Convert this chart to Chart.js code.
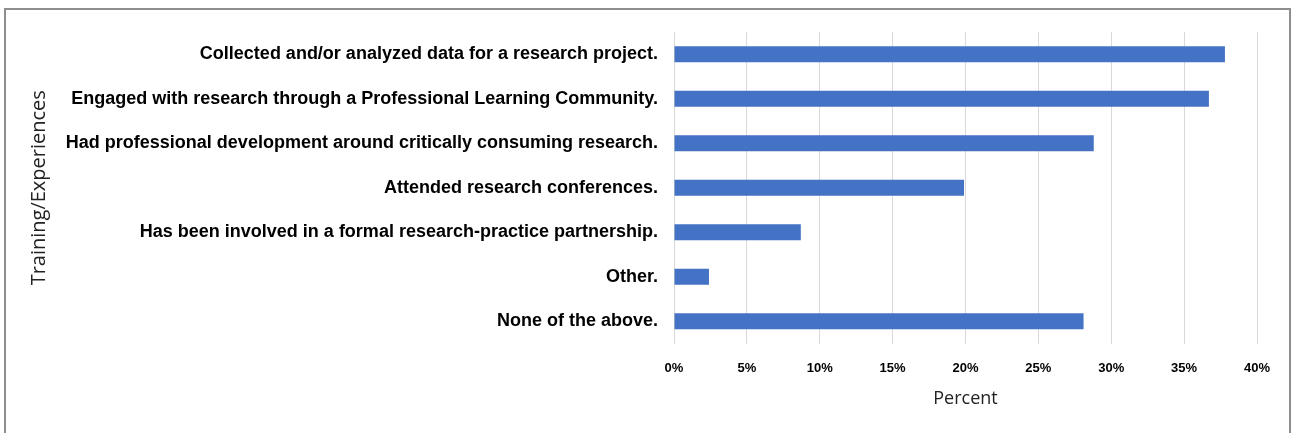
<!DOCTYPE html>
<html>
<head>
<meta charset="utf-8">
<script src="https://cdn.jsdelivr.net/npm/chart.js@4/dist/chart.umd.min.js"></script>
<style>
    html, body { margin: 0; padding: 0; background: #ffffff; overflow: hidden; }
    #wrap { position: relative; width: 1295px; height: 433px; }
    #frame { position: absolute; left: 4px; top: 8px; width: 1287px; height: 440px; border: 2px solid #8e8e8e; box-sizing: border-box; }
    #chart { position: absolute; left: 0; top: 0; }
</style>
</head>
<body>
<div id="wrap">
    <div id="frame"></div>
    <canvas id="chart" width="1295" height="433"></canvas>
</div>
<script>
// Chart data
const categories = [
    "Collected and/or analyzed data for a research project.",
    "Engaged with research through a Professional Learning Community.",
    "Had professional development around critically consuming research.",
    "Attended research conferences.",
    "Has been involved in a formal research-practice partnership.",
    "Other.",
    "None of the above."
];
const percents = [37.8, 36.7, 28.8, 19.9, 8.7, 2.4, 28.1];
const xTicks = [0, 5, 10, 15, 20, 25, 30, 35, 40];

const BAR_COLOR = '#4472c4';
const GRID_COLOR = '#d9d9d9';

const ctx = document.getElementById('chart').getContext('2d');

new Chart(ctx, {
    type: 'bar',
    data: {
        labels: categories,
        datasets: [{
            label: 'Percent',
            data: percents,
            backgroundColor: BAR_COLOR,
            borderWidth: 0,
            categoryPercentage: 1,
            barPercentage: 0.36
        }]
    },
    options: {
        indexAxis: 'y',
        responsive: false,
        animation: false,
        layout: { padding: { top: 32, right: 38, bottom: 0, left: 0 } },
        plugins: {
            legend: { display: false },
            tooltip: { enabled: false }
        },
        scales: {
            x: {
                min: 0,
                max: 40,
                afterBuildTicks: (scale) => { scale.ticks = xTicks.map(v => ({ value: v })); },
                afterFit: (scale) => { scale.height = 89.5; },
                grid: { color: GRID_COLOR, lineWidth: 1, drawTicks: false },
                border: { display: false },
                ticks: {
                    padding: 17,
                    color: '#000000',
                    font: { family: '"Liberation Sans", Arial', size: 13, weight: 'bold' },
                    callback: (v) => v + '%'
                },
                title: {
                    display: true,
                    text: 'Percent',
                    color: '#222222',
                    font: { family: '"Open Sans"', size: 18 },
                    padding: { top: 0, bottom: 23 }
                }
            },
            y: {
                afterFit: (scale) => { scale.width = 674; },
                grid: { display: false },
                border: { display: false },
                ticks: {
                    padding: 8,
                    color: '#000000',
                    font: { family: '"Liberation Sans", Arial', size: 18, weight: 'bold' }
                },
                title: {
                    display: true,
                    text: 'Training/Experiences',
                    color: '#222222',
                    font: { family: '"Open Sans"', size: 20 },
                    padding: { top: 27, bottom: 0 }
                }
            }
        }
    }
});
</script>
</body>
</html>
